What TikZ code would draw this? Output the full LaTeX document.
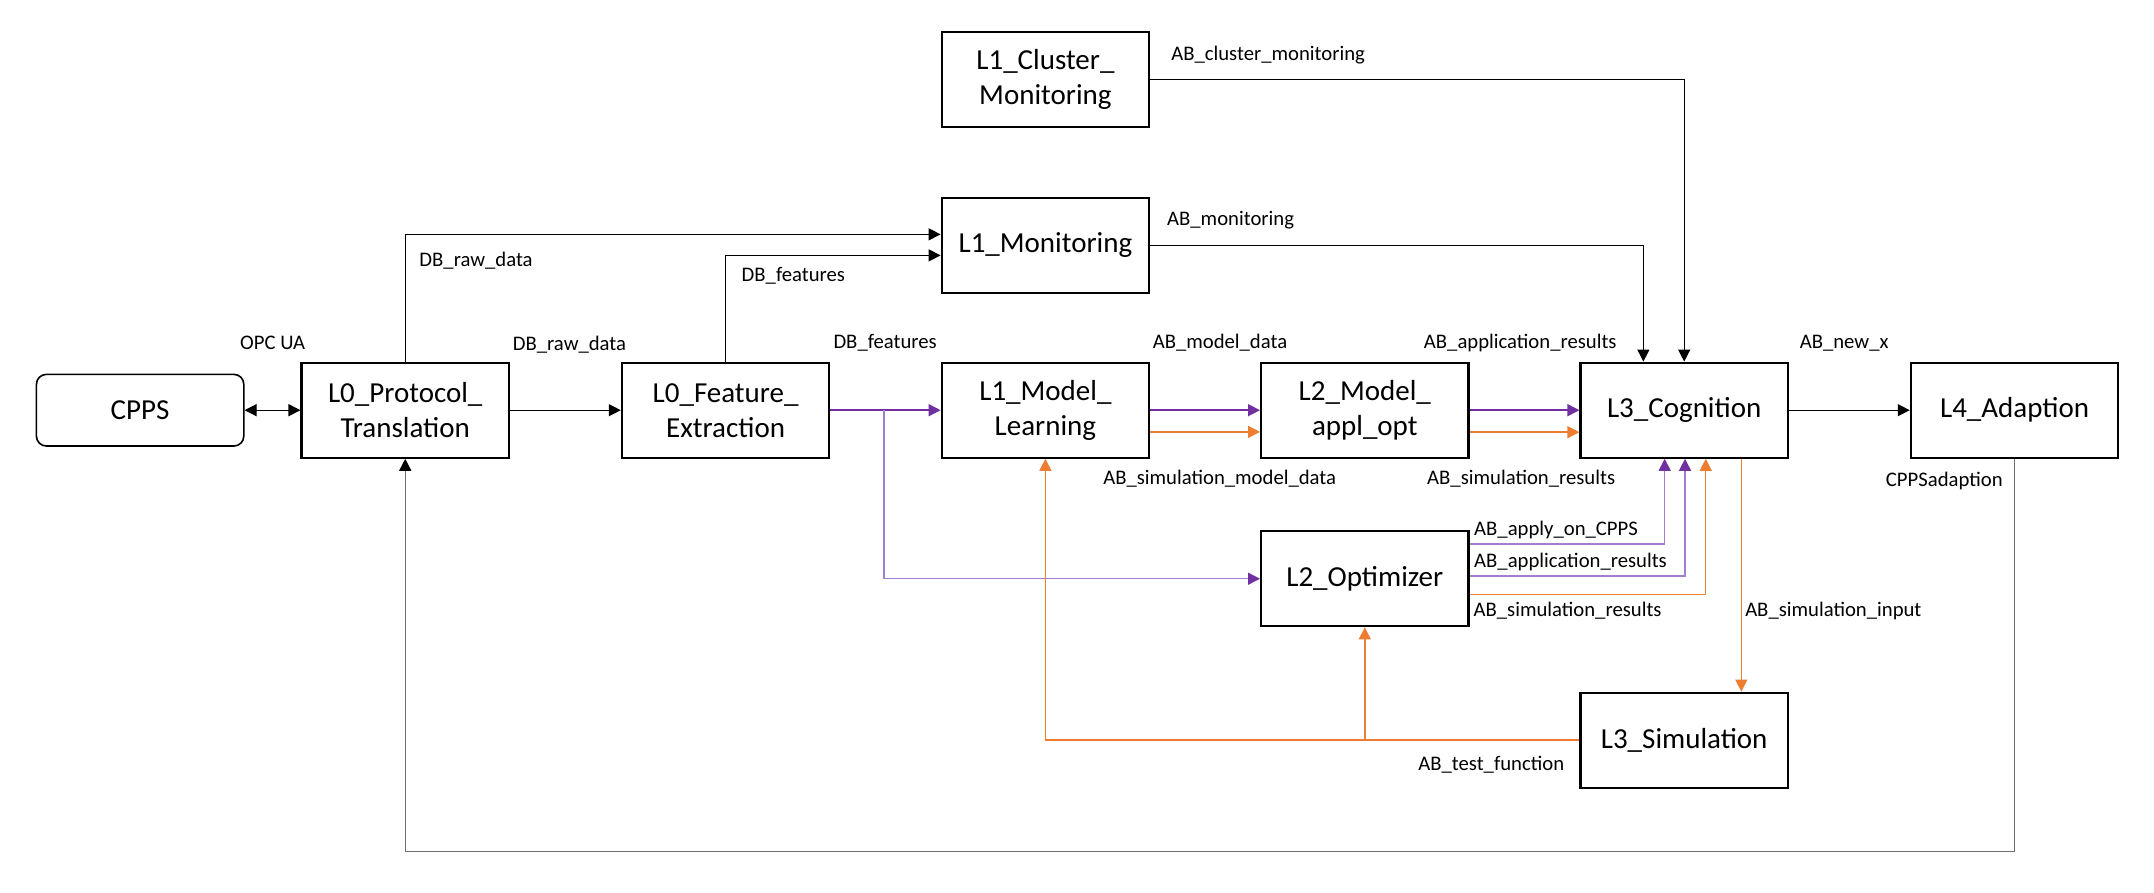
\documentclass[tikz,border=0pt]{standalone}
\usepackage{fontspec}
\setmainfont{Carlito}
\usetikzlibrary{arrows.meta,calc}
\definecolor{dpurple}{HTML}{7030A0}
\definecolor{lpurple}{HTML}{A47FD0}
\definecolor{orng}{HTML}{ED7D31}
\definecolor{gline}{HTML}{6E6E6E}
\begin{document}
\begin{tikzpicture}[x=1.3737pt,y=-1.3737pt,
  box/.style={draw, line width=2.2pt, minimum width=207.4pt, minimum height=95pt, inner sep=0pt, align=center, font=\fontsize{29}{35}\selectfont},
  lab/.style={anchor=base west, yshift=-6.7pt, inner sep=0pt, font=\fontsize{20.7}{25}\selectfont},
  bconn/.style={line width=1.2pt, black, -{Triangle[length=12pt,width=12pt]}},
  gconn/.style={line width=1.5pt, gline, -{Triangle[length=12pt,width=12pt,color=black]}},
  pconn/.style={line width=1.4pt, dpurple, -{Triangle[length=12pt,width=12pt]}},
  lpconn/.style={line width=1.4pt, lpurple, -{Triangle[length=12pt,width=12pt,color=dpurple]}},
  oconn/.style={line width=1.4pt, orng, -{Triangle[length=12pt,width=12pt]}},
]
\useasboundingbox (0,0) rectangle (1568,649.35);

% boxes
\node[box, rounded corners=10pt, line width=1.6pt, minimum height=71.7pt] (cpps) at (102,298.6) {CPPS};
\node[box] (prot) at (295,298.6) {L0\_Protocol\_\\Translation};
\node[box] (feat) at (528.2,298.6) {L0\_Feature\_\\Extraction};
\node[box] (ml) at (761,298.6) {L1\_Model\_\\Learning};
\node[box] (ma) at (993.5,298.6) {L2\_Model\_\\appl\_opt};
\node[box] (cog) at (1226,298.6) {L3\_Cognition};
\node[box] (l4) at (1466.5,298.6) {L4\_Adaption};
\node[box] (cl) at (761,58.1) {L1\_Cluster\_\\Monitoring};
\node[box] (mon) at (761,178.6) {L1\_Monitoring};
\node[box] (opt) at (993.5,421.3) {L2\_Optimizer};
\node[box] (sim) at (1226,538.8) {L3\_Simulation};

% connectors
\draw[bconn, {Triangle[length=12pt,width=12pt]}-{Triangle[length=12pt,width=12pt]}] (cpps) -- (prot);
\draw[bconn] (prot) -- (feat);
\draw[bconn] (prot.north) |- ($(mon.west)+(0,-8)$);
\draw[bconn] (feat.north) |- ($(mon.west)+(0,7.3)$);
\draw[pconn] (feat) -- (ml);
\coordinate (br) at ($(feat.east)+(39,0)$);
\draw[lpconn] (br) |- (opt.west);
\draw[pconn] (ml) -- (ma);
\draw[oconn] ($(ml.east)+(0,15.8)$) -- ($(ma.west)+(0,15.8)$);
\draw[pconn] (ma) -- (cog);
\draw[oconn] ($(ma.east)+(0,16)$) -- ($(cog.west)+(0,16)$);
\draw[bconn] (mon.east) -| ($(cog.north)+(-29.7,0)$);
\draw[bconn] (cl.east) -| (cog.north);
\draw[bconn] (cog) -- (l4);
\draw[gconn] (l4.south) -- ++(0,286) -| (prot.south);
\draw[lpconn] ($(opt.east)+(0,-25.3)$) -| ($(cog.south)+(-14.2,0)$);
\draw[lpconn] ($(opt.east)+(0,-2)$) -| ($(cog.south)+(0.6,0)$);
\draw[oconn] ($(opt.east)+(0,11.6)$) -| ($(cog.south)+(15.7,0)$);
\draw[oconn] ($(cog.south)+(41.6,0)$) -- ($(sim.north)+(41.6,0)$);
\draw[oconn] (sim.west) -| (ml.south);
\draw[oconn] (sim.west -| opt.south) -- (opt.south);

% labels
\node[lab] at (174.7,249.9) {OPC UA};
\node[lab] at (373.2,250) {DB\_raw\_data};
\node[lab] at (305.2,189.3) {DB\_raw\_data};
\node[lab] at (539.8,200.2) {DB\_features};
\node[lab] at (606.6,248.7) {DB\_features};
\node[lab] at (839,248.7) {AB\_model\_data};
\node[lab] at (803,348) {AB\_simulation\_model\_data};
\node[lab] at (1036.4,248.7) {AB\_application\_results};
\node[lab] at (1038.8,348) {AB\_simulation\_results};
\node[lab] at (849.5,159.4) {AB\_monitoring};
\node[lab] at (852.5,39.3) {AB\_cluster\_monitoring};
\node[lab] at (1310,248.7) {AB\_new\_x};
\node[lab] at (1372.7,349.4) {CPPSadaption};
\node[lab] at (1073,385) {AB\_apply\_on\_CPPS};
\node[lab] at (1073,408.4) {AB\_application\_results};
\node[lab] at (1072.6,444) {AB\_simulation\_results};
\node[lab] at (1270.3,444) {AB\_simulation\_input};
\node[lab] at (1032.3,555.7) {AB\_test\_function};
\end{tikzpicture}
\end{document}
